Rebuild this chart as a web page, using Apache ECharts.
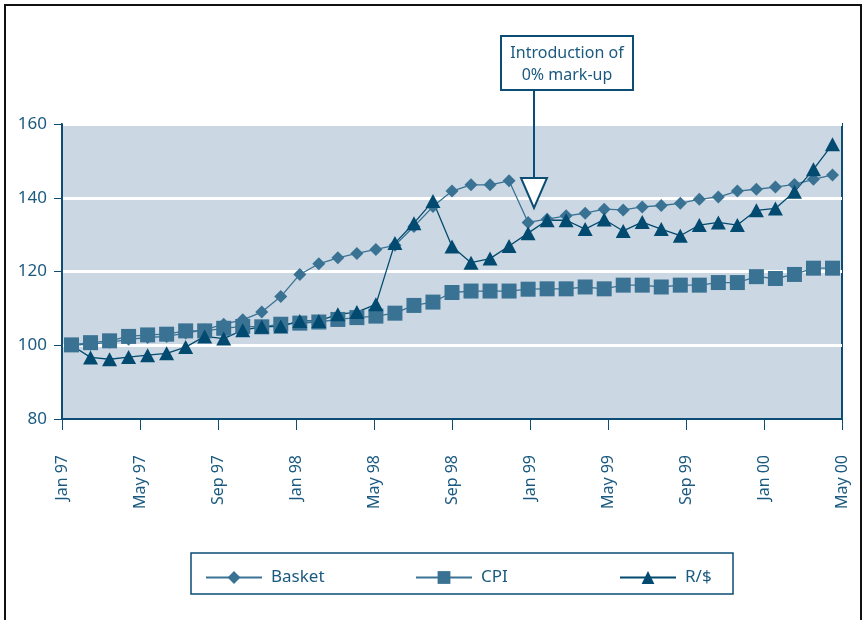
<!DOCTYPE html>
<html>
<head>
<meta charset="utf-8">
<script src="https://cdn.jsdelivr.net/npm/echarts@6/dist/echarts.min.js"></script>
<style>
  html, body { margin: 0; padding: 0; background: #fff; }
  #chart { width: 866px; height: 620px; }
</style>
</head>
<body>
<div id="chart"></div>
<script>
// months Jan 97 .. May 00
var months = [
  'Jan 97','Feb 97','Mar 97','Apr 97','May 97','Jun 97','Jul 97','Aug 97','Sep 97','Oct 97','Nov 97','Dec 97',
  'Jan 98','Feb 98','Mar 98','Apr 98','May 98','Jun 98','Jul 98','Aug 98','Sep 98','Oct 98','Nov 98','Dec 98',
  'Jan 99','Feb 99','Mar 99','Apr 99','May 99','Jun 99','Jul 99','Aug 99','Sep 99','Oct 99','Nov 99','Dec 99',
  'Jan 00','Feb 00','Mar 00','Apr 00','May 00'
];
var tickLabels = ['Jan 97','May 97','Sep 97','Jan 98','May 98','Sep 98','Jan 99','May 99','Sep 99','Jan 00','May 00'];

var basket = [100, 100.3, 100.8, 101.6, 102.1, 102.4, 103.3, 104.2, 105.7, 106.9, 109, 113.2, 119.2, 122.1,
  123.7, 124.9, 126, 127.1, 132.2, 137.6, 141.8, 143.5, 143.5, 144.6, 133.3, 134.2, 135.1, 135.8, 136.9,
  136.7, 137.5, 137.9, 138.5, 139.6, 140.2, 141.8, 142.3, 142.9, 143.6, 145, 146.2];
var cpi = [100.1, 100.7, 101.2, 102.4, 102.8, 103, 103.9, 103.9, 104.6, 105.1, 105, 105.7, 106, 106.3, 107,
  107.5, 107.9, 108.7, 110.8, 111.7, 114.3, 114.7, 114.7, 114.7, 115.2, 115.3, 115.3, 115.8, 115.3, 116.3,
  116.3, 115.8, 116.3, 116.3, 117, 117, 118.6, 118.1, 119.2, 120.9, 120.9];
var rand = [100, 96.7, 96.2, 96.8, 97.3, 97.8, 99.5, 102.4, 101.8, 104.1, 105, 105.1, 106.6, 106.6, 108.4,
  109, 111.1, 127.7, 133.1, 139.1, 126.8, 122.4, 123.5, 126.9, 130.4, 133.9, 133.9, 131.5, 134.1, 131,
  133.4, 131.5, 129.7, 132.6, 133.3, 132.6, 136.6, 137.1, 141.6, 147.7, 154.5];

var dark = '#0b4d74';
var textCol = '#1b5a80';
var mid = '#3a7294';
var tri = '#024a6f';
var font = 'Noto Sans';

var myChart = echarts.init(document.getElementById('chart'));

// the R/$ line starts at the base point without a marker
var randData = rand.map(function (v, i) {
  return i === 0 ? { value: v, symbol: 'none' } : v;
});

var legendBase = {
  top: 564,
  itemWidth: 56,
  itemHeight: 16,
  textStyle: { color: textCol, fontSize: 17, fontFamily: font, padding: [0, 0, 0, 4] }
};

var option = {
  backgroundColor: '#fff',
  animation: false,
  grid: {
    left: 62, right: 24, top: 124, bottom: 201,
    show: true,
    backgroundColor: '#cbd8e3',
    borderColor: dark,
    borderWidth: 2
  },
  legend: [
    Object.assign({ left: 200, data: ['Basket'] }, legendBase),
    Object.assign({ left: 410, data: ['CPI'] }, legendBase),
    Object.assign({ left: 614, data: ['R/$'] }, legendBase)
  ],
  xAxis: [{
    type: 'category',
    data: months,
    boundaryGap: true,
    axisLine: { lineStyle: { color: dark, width: 2 } },
    axisTick: { show: false },
    axisLabel: { show: false },
    splitLine: { show: false }
  }, {
    type: 'category',
    data: tickLabels,
    boundaryGap: false,
    position: 'bottom',
    axisLine: { show: false },
    axisTick: { show: true, length: 11, lineStyle: { color: dark, width: 1 } },
    axisLabel: {
      rotate: 90, margin: 36, interval: 0,
      color: textCol, fontSize: 16, fontFamily: font
    },
    splitLine: { show: false }
  }],
  yAxis: {
    type: 'value',
    min: 80, max: 160, interval: 20,
    axisLine: { show: true, lineStyle: { color: dark, width: 2 } },
    axisTick: { show: true, length: 8, lineStyle: { color: dark, width: 1 } },
    axisLabel: { color: textCol, fontSize: 17, fontFamily: font, margin: 15 },
    splitLine: { lineStyle: { color: '#ffffff', width: 3 } }
  },
  series: [{
    name: 'Basket',
    type: 'line',
    data: basket,
    symbol: 'diamond',
    symbolSize: 13,
    showAllSymbol: true,
    itemStyle: { color: mid },
    lineStyle: { color: mid, width: 1.3 }
  }, {
    name: 'CPI',
    type: 'line',
    data: cpi,
    symbol: 'rect',
    symbolSize: 15,
    showAllSymbol: true,
    itemStyle: { color: mid },
    lineStyle: { color: mid, width: 1.3 }
  }, {
    name: 'R/$',
    type: 'line',
    data: randData,
    symbol: 'triangle',
    symbolSize: [15, 14],
    showAllSymbol: true,
    itemStyle: { color: tri },
    lineStyle: { color: tri, width: 1.3 }
  }],
  graphic: [
    // outer frame
    { type: 'rect', shape: { x: 5, y: 5, width: 856, height: 700 }, style: { fill: 'none', stroke: '#111', lineWidth: 2 }, z: 10 },
    // legend box
    { type: 'rect', shape: { x: 191, y: 553, width: 542, height: 41 }, style: { fill: 'none', stroke: dark, lineWidth: 1.5 } },
    // annotation
    { type: 'rect', shape: { x: 501, y: 36, width: 132, height: 54 }, style: { fill: '#fff', stroke: dark, lineWidth: 2 }, z: 20 },
    { type: 'text', x: 567, y: 42, z: 21,
      style: { text: 'Introduction of\n0% mark-up', textAlign: 'center', align: 'center', fill: textCol,
        fontSize: 16, fontFamily: font, lineHeight: 22 } },
    { type: 'line', shape: { x1: 534, y1: 90, x2: 534, y2: 178 }, style: { stroke: dark, lineWidth: 2 }, z: 20 },
    { type: 'polygon', shape: { points: [[521, 178], [547, 178], [534, 208]] }, style: { fill: '#fff', stroke: dark, lineWidth: 2 }, z: 20 }
  ]
};

myChart.setOption(option);
</script>
</body>
</html>
